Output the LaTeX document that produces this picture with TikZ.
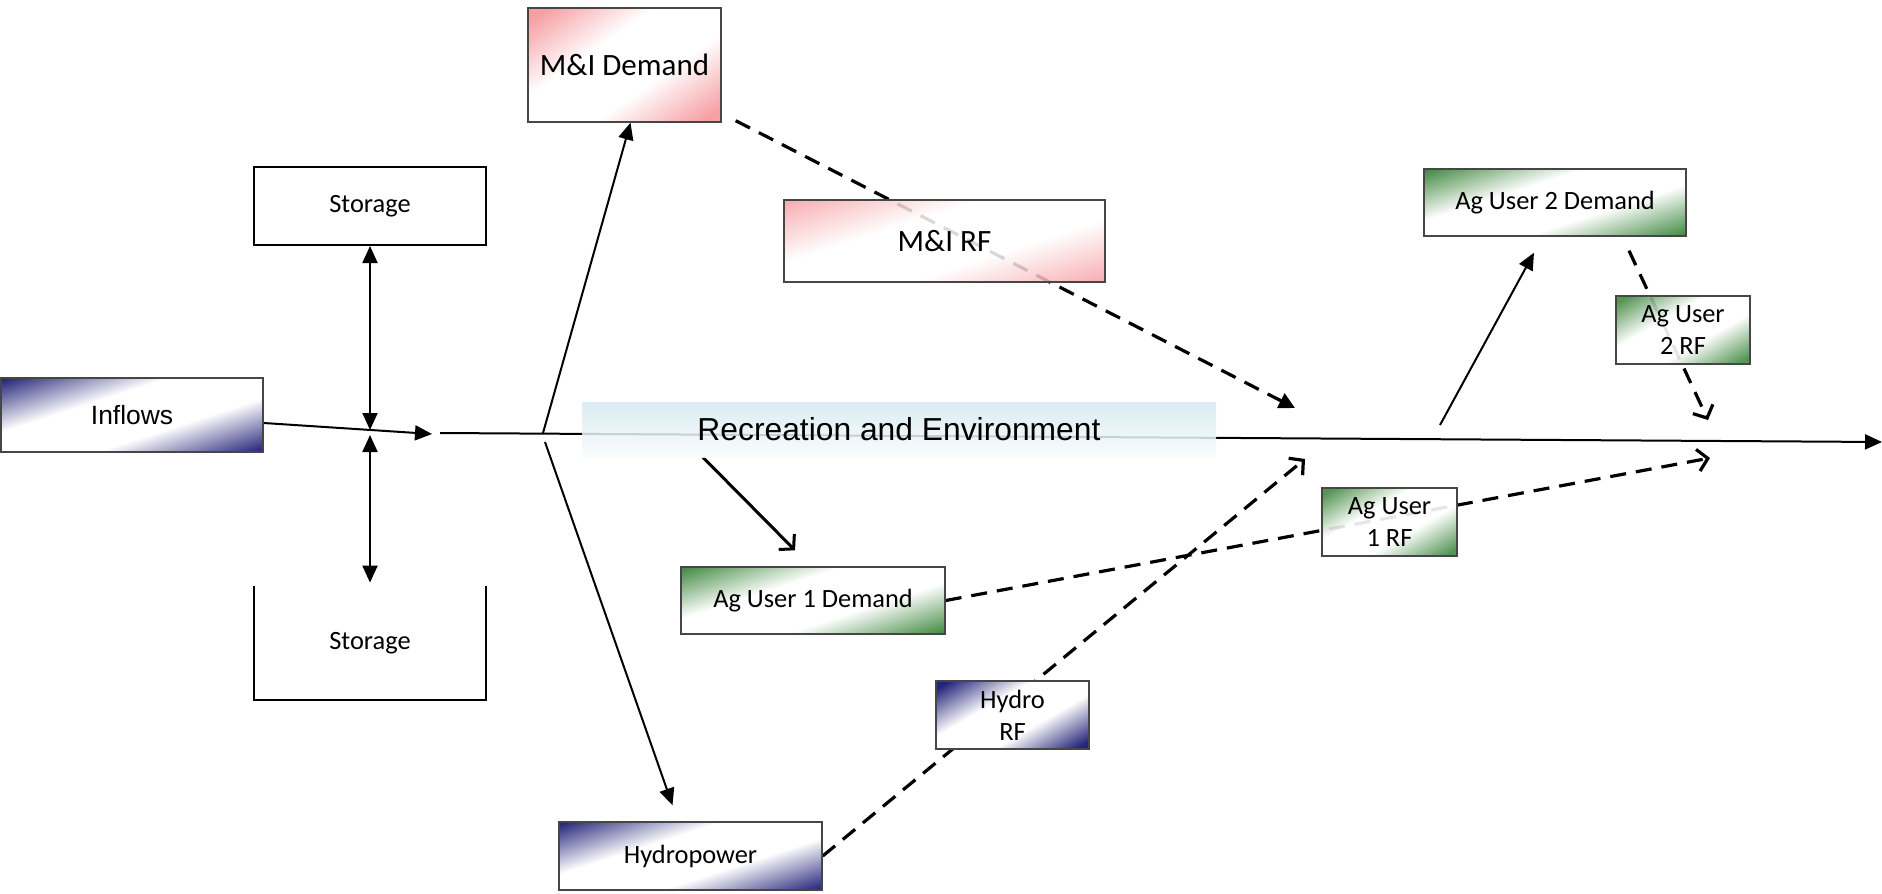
\documentclass[tikz,border=0pt]{standalone}
\usepackage{fontspec}
\setmainfont{Carlito}
\newfontfamily\arialfont{Liberation Sans}
\usetikzlibrary{arrows.meta,positioning,backgrounds}

\definecolor{hydroblue}{RGB}{36,36,122}
\definecolor{aggreen}{RGB}{66,138,66}
\definecolor{mipink}{RGB}{246,160,164}
\definecolor{recblue}{RGB}{212,233,240}
\definecolor{boxedge}{RGB}{70,70,70}

\pgfdeclarehorizontalshading{bluecorner}{100bp}{color(0bp)=(hydroblue); color(19bp)=(hydroblue); color(40bp)=(white); color(60bp)=(white); color(81bp)=(hydroblue); color(100bp)=(hydroblue)}
\pgfdeclarehorizontalshading{greencorner}{100bp}{color(0bp)=(aggreen); color(19bp)=(aggreen); color(40bp)=(white); color(60bp)=(white); color(81bp)=(aggreen); color(100bp)=(aggreen)}
\pgfdeclarehorizontalshading{pinkcorner}{100bp}{color(0bp)=(mipink); color(19bp)=(mipink); color(40bp)=(white); color(60bp)=(white); color(81bp)=(mipink); color(100bp)=(mipink)}

\newcommand\boxtext{\fontsize{13.2}{16}\selectfont}
\newcommand\bigtext{\fontsize{15.5}{18}\selectfont}

\tikzset{
  box/.style={draw=boxedge, line width=0.7pt, inner sep=0pt, align=center, font=\boxtext, shading angle=-72},
  hydrobox/.style={box, shading=bluecorner},
  agbox/.style={box, shading=greencorner},
  mibox/.style={box, shading=pinkcorner, font=\bigtext},
  storebox/.style={inner sep=0pt, font=\boxtext, minimum width=116pt, minimum height=39pt},
  flow/.style={line width=1pt, -{Triangle[length=8.5pt,width=7.5pt]}},
  twoway/.style={line width=1pt, {Triangle[length=8.5pt,width=7.5pt]}-{Triangle[length=8.5pt,width=7.5pt]}},
  refill/.style={line width=1.6pt, dash pattern=on 8pt off 5pt, -{Straight Barb[length=5pt,width=11pt]}},
}

\begin{document}
\begin{tikzpicture}[x=0.5pt, y=-0.5pt]
\useasboundingbox (0,0) rectangle (1882,893);

% boxes
\node (inflows) [hydrobox, minimum width=131pt, minimum height=37pt, font=\arialfont\boxtext] at (132,415) {Inflows};
\node (stortop) [storebox, draw, line width=1pt] at (370,206) {Storage};
\node (storbot) [storebox, minimum height=57pt] at (370,643) {Storage};
\draw [line width=1pt] (storbot.north west) -- (storbot.south west) -- (storbot.south east) -- (storbot.north east);
\node (midem) [mibox, minimum width=96.5pt, minimum height=57pt, shading angle=-55] at (624.5,65) {M\&I Demand};
\node (mirf) [mibox, minimum width=160.5pt, minimum height=41pt, fill opacity=0.85, text opacity=1] at (944.5,241) {M\&I RF};
\node (recenv) [inner sep=0pt, minimum width=317pt, minimum height=27.5pt, top color=recblue, bottom color=white!85!recblue, fill opacity=0.85, text opacity=1, font=\arialfont\fontsize{15.9}{18}\selectfont] at (899,429.5) {Recreation and Environment};
\node (ag1dem) [agbox, minimum width=132pt, minimum height=33.5pt] at (813,600.5) {Ag User 1 Demand};
\node (ag1rf) [agbox, minimum width=67.5pt, minimum height=34pt, fill opacity=0.9, text opacity=1, shading angle=-60] at (1389.5,522) {Ag User\\1 RF};
\node (ag2dem) [agbox, minimum width=131pt, minimum height=33.5pt] at (1555,202.5) {Ag User 2 Demand};
\node (ag2rf) [agbox, minimum width=67pt, minimum height=34pt, fill opacity=0.9, text opacity=1, shading angle=-60] at (1683,330) {Ag User\\2 RF};
\node (hydro) [hydrobox, minimum width=131.5pt, minimum height=34pt] at (690.5,856) {Hydropower};
\node (hydrorf) [hydrobox, minimum width=76.5pt, minimum height=34pt, shading angle=-60] at (1012.5,715) {Hydro\\RF};

% free ends
\coordinate (inlet) at (432,434);
\coordinate (jtop) at (370,430);
\coordinate (jbot) at (370,435);
\coordinate (mainstart) at (440,433);
\coordinate (fork) at (543,433);
\coordinate (forklow) at (545,442);
\coordinate (outlet) at (1882,442);
\coordinate (mitip) at (1295,408);
\coordinate (hytip) at (1305,459);
\coordinate (ag1tip) at (1710,458);
\coordinate (ag2tip) at (1708,420);
\coordinate (ag2off) at (1440,425);

\begin{pgfonlayer}{background}
\draw [flow] ([yshift=-4pt]inflows.east) -- (inlet);
\draw [twoway] (stortop) -- (jtop);
\draw [twoway] (jbot) -- ([yshift=1.5pt]storbot.north);
\draw [flow] (mainstart) -- (outlet);
\draw [flow] (fork) -- ([xshift=3pt]midem.south);
\draw [flow] (forklow) -- ([xshift=-9pt,yshift=8pt]hydro.north);
\draw [line width=1.5pt, -{Straight Barb[length=5pt,width=11pt]}] ([xshift=-98pt]recenv.south) -- ([xshift=-9pt,yshift=8pt]ag1dem.north);
\draw [flow] (ag2off) -- ([xshift=-10.5pt,yshift=-8pt]ag2dem.south);
% return flows
\draw [refill, -{Triangle[length=8pt,width=8pt]}] ([xshift=7pt,yshift=1pt]midem.south east) -- (mitip);
\draw [refill] (hydro.east) -- (hytip);
\draw [refill] (ag1dem.east) -- (ag1tip);
\draw [refill] ([xshift=37pt,yshift=-7pt]ag2dem.south) -- (ag2tip);
\end{pgfonlayer}
\end{tikzpicture}
\end{document}
